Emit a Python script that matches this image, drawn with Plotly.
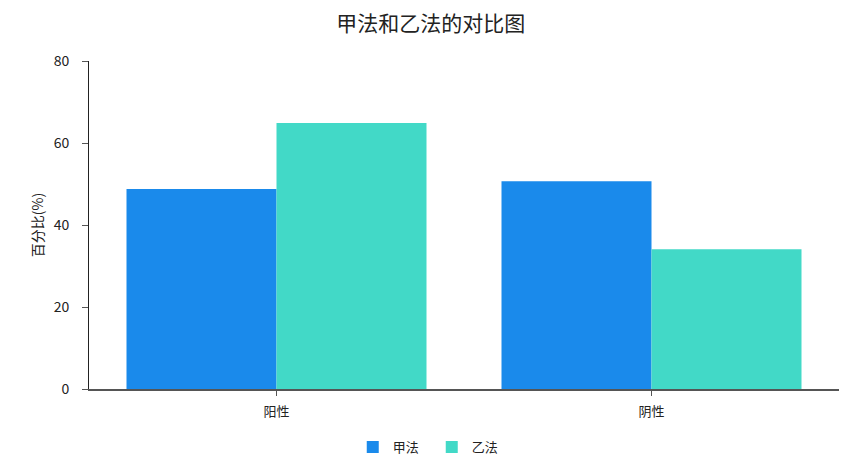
import plotly.graph_objects as go

categories = ["阳性", "阴性"]
series_names = ["甲法", "乙法"]
jia_values = [48.8, 50.7]
yi_values = [64.9, 34.1]
colors = ["#1a8aeb", "#42d9c7"]

FONT = "Noto Sans CJK SC, Microsoft YaHei, sans-serif"

fig = go.Figure()
for name, vals, color in zip(series_names, [jia_values, yi_values], colors):
    fig.add_trace(go.Bar(x=categories, y=vals, name=name, marker=dict(color=color, line=dict(width=0))))

# page body adds an 8px offset, margins compensate for it
fig.update_layout(
    width=856,
    height=471,
    barmode="group",
    bargap=0.2,
    bargroupgap=0,
    plot_bgcolor="white",
    paper_bgcolor="white",
    font=dict(family=FONT, size=13, color="#222"),
    title=dict(text="甲法和乙法的对比图", x=0.494, xanchor="center", y=0.966, yanchor="middle",
               font=dict(size=21, color="#222")),
    margin=dict(l=81, r=25, t=53, b=90),
    legend=dict(orientation="h", x=0.457, xanchor="center", y=-0.177, yanchor="middle",
                font=dict(size=13), itemwidth=30, entrywidth=34),
    xaxis=dict(showline=True, linecolor="#555", linewidth=1.5, ticks="outside", ticklen=5,
               tickcolor="#555", showgrid=False, ticklabelstandoff=5,
               tickfont=dict(size=13, color="#222")),
    yaxis=dict(range=[0, 80], dtick=20, showline=True, linecolor="#222", linewidth=1,
               ticks="outside", ticklen=6, tickcolor="#555", showgrid=False, zeroline=False,
               ticklabelstandoff=10,
               title=dict(text="百分比(%)", font=dict(size=14, color="#222"), standoff=6),
               tickfont=dict(size=14, color="#222")),
)

fig.write_html("out.html")
